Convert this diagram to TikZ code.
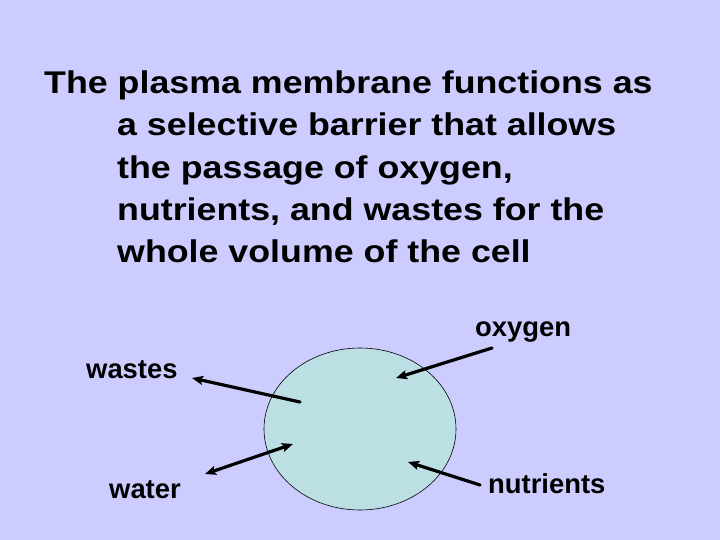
\documentclass[tikz,border=0pt]{standalone}
\usepackage{fontspec}
\setmainfont{Liberation Sans}
\usetikzlibrary{arrows.meta,shapes.geometric}
\definecolor{slidebg}{RGB}{204,204,255}
\definecolor{cellfill}{RGB}{187,223,226}

\begin{document}
\begin{tikzpicture}[
  x=1bp, y=-1bp,
  line cap=round, line join=round,
  >={Stealth[length=11bp,width=9bp,inset=2bp]},
  flow/.style={line width=3.2bp, ->},
  lbl/.style={anchor=base west, inner sep=0pt, font=\fontsize{27.5}{30}\selectfont\bfseries}
]
% 背景
\fill[slidebg] (0,0) rectangle (720,540);
\useasboundingbox (0,0) rectangle (720,540);

% 标题（基线取最后一行）
\node[anchor=base west, inner sep=0pt, align=left, xscale=1.14,
  font=\fontsize{31.5}{42.5}\selectfont\bfseries] (title) at (44,263)
  {The plasma membrane functions as\\
   \hspace*{64bp}a selective barrier that allows\\
   \hspace*{64bp}the passage of oxygen,\\
   \hspace*{64bp}nutrients, and wastes for the\\
   \hspace*{64bp}whole volume of the cell};

% 细胞
\node[ellipse, draw=black, line width=0.6bp, fill=cellfill,
  minimum width=192bp, minimum height=162bp, inner sep=0pt] (cell) at (360,429) {};

% 标注
\node[lbl] (oxygen) at (475,336) {oxygen};
\node[lbl] (wastes) at (86,378) {wastes};
\node[lbl] (water) at (109,498) {water};
\node[lbl] (nutrients) at (488,493) {nutrients};

% 箭头端点
\coordinate (oxA) at (492,348);  \coordinate (oxB) at (396,378);
\coordinate (waA) at (300,402);  \coordinate (waB) at (192,378);
\coordinate (wtA) at (205,474);  \coordinate (wtB) at (293,444);
\coordinate (nuA) at (480,485);  \coordinate (nuB) at (408,462);

\draw[flow] (oxA) -- (oxB);
\draw[flow] (waA) -- (waB);
\draw[flow, <->] (wtA) -- (wtB);
\draw[flow] (nuA) -- (nuB);
\end{tikzpicture}
\end{document}
